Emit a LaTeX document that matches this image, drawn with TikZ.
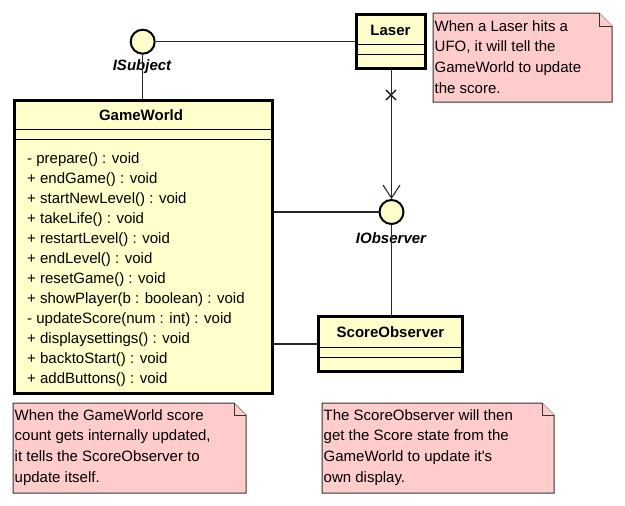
\documentclass[tikz,border=0pt]{standalone}
\usepackage{fontspec}
\setmainfont{Liberation Sans}[Ligatures=TeXOff]
\usetikzlibrary{arrows.meta,shapes.misc}
\definecolor{classfill}{HTML}{FFFFCC}
\definecolor{notefill}{HTML}{FFCCCC}
\begin{document}
\begin{tikzpicture}[x=1pt,y=-1pt,
  every node/.style={font=\fontsize{15}{20}\selectfont, inner sep=0},
  classbox/.style={draw, line width=3, fill=classfill},
  iface/.style={circle, draw, line width=2, fill=classfill, minimum size=24},
  ifacelabel/.style={font=\fontsize{15}{20}\selectfont\bfseries\itshape},
  conn/.style={line width=1.1, black!85},
  notebox/.style={draw=black!80, line width=1, fill=notefill},
  notetext/.style={anchor=north west, align=left, font=\fontsize{15}{20.8}\selectfont}]
\useasboundingbox (0,0) rectangle (625,506);
\node[classbox, minimum width=258, minimum height=293] (gw) at (143.3,247) {};
\node[classbox, minimum width=69, minimum height=54.3] (laser) at (390.5,41.3) {};
\node[classbox, minimum width=144, minimum height=55] (so) at (390.5,344) {};
\draw[line width=1] (14,129) -- (272.5,129);
\draw[line width=1] (14,139) -- (272.5,139);
\draw[line width=1] (355.5,44) -- (424.5,44);
\draw[line width=1] (355.5,54) -- (424.5,54);
\draw[line width=1] (318.5,347) -- (462.5,347);
\draw[line width=1] (318.5,357) -- (462.5,357);
\node[font=\fontsize{15}{20}\selectfont\bfseries] (gwname) at (141,115) {GameWorld};
\node[font=\fontsize{15}{20}\selectfont\bfseries] (lasername) at (390.5,30) {Laser};
\node[font=\fontsize{15}{20}\selectfont\bfseries] (soname) at (390.5,332) {ScoreObserver};
\foreach \m [count=\i] in {- prepare() : void, + endGame() : void, + startNewLevel() : void,
  + takeLife() : void, + restartLevel() : void, + endLevel() : void, + resetGame() : void,
  + showPlayer(b : boolean) : void, - updateScore(num : int) : void,
  + displaysettings() : void, + backtoStart() : void, + addButtons() : void}
  \node[anchor=base west] (m\i) at (27,{163+20*(\i-1)}) {\m};
\node[iface] (isub) at (142.7,41.7) {};
\node[iface] (iobs) at (391.5,212) {};
\node[ifacelabel] (isublabel) at (142,67) {ISubject};
\node[ifacelabel] (iobslabel) at (391,238) {IObserver};
\node[draw, cross out, line width=1.1, minimum size=9] (nav) at (391,95) {};
\draw[conn] (isub) -- (isub -| laser.west);
\draw[conn] (isub) -- (isub |- gw.north);
\draw[conn, -{Straight Barb[length=13pt, width=17pt]}] (laser.south -| iobs) -- (iobs.north);
\draw[conn] (iobs) -- (iobs -| gw.east);
\draw[conn] (iobs) -- (iobs |- so.north);
\draw[conn] (so.west) -- (so.west -| gw.east);
\draw[notebox] (433,13) -- (599,13) -- (612,26) -- (612,102) -- (433,102) -- cycle;
\draw[notebox] (599,13) -- (599,26) -- (612,26);
\node[notetext] (note1) at (434.5,20) {When a Laser hits a\\UFO, it will tell the\\GameWorld to update\\the score.};
\draw[notebox] (13,403) -- (234,403) -- (246,415) -- (246,493) -- (13,493) -- cycle;
\draw[notebox] (234,403) -- (234,415) -- (246,415);
\node[notetext] (note2) at (14.5,409) {When the GameWorld score\\count gets internally updated,\\it tells the ScoreObserver to\\update itself.};
\draw[notebox] (322,403) -- (542,403) -- (554,415) -- (554,493) -- (322,493) -- cycle;
\draw[notebox] (542,403) -- (542,415) -- (554,415);
\node[notetext] (note3) at (323.5,409) {The ScoreObserver will then\\get the Score state from the\\GameWorld to update it's\\own display.};
\end{tikzpicture}
\end{document}
